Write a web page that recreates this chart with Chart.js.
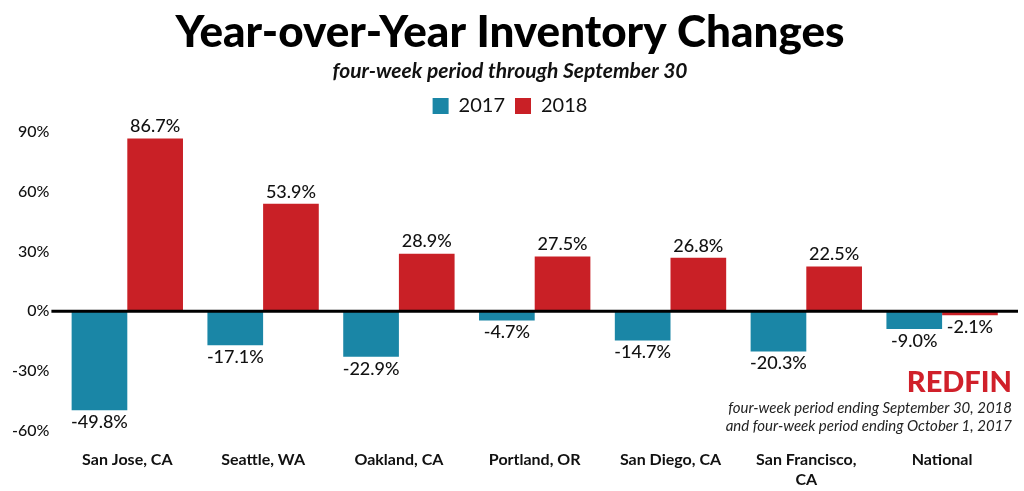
<!DOCTYPE html>
<html><head><meta charset="utf-8">
<script src="https://cdn.jsdelivr.net/npm/chart.js@4/dist/chart.umd.min.js"></script>
<style>html,body{margin:0;padding:0;background:#fff}#w{width:1024px;height:491px}</style>
</head><body><div id="w"><canvas id="c"></canvas></div>
<script>
const categories = [["San Jose, CA"],["Seattle, WA"],["Oakland, CA"],["Portland, OR"],["San Diego, CA"],["San Francisco,","CA"],["National"]];
const values2017 = [-49.8,-17.1,-22.9,-4.7,-14.7,-20.3,-9.0];
const values2018 = [86.7,53.9,28.9,27.5,26.8,22.5,-2.1];
const yTicks = [90,60,30,0,-30,-60];

const labelsPlugin = {
  id:'lbl',
  afterDatasetsDraw(chart){
    const ctx=chart.ctx;
    ctx.save();
    ctx.font='500 18px Lato';ctx.fillStyle='#111';ctx.textAlign='center';
    chart.data.datasets.forEach((ds,i)=>{
      chart.getDatasetMeta(i).data.forEach((bar,j)=>{
        const v=ds.data[j];
        ctx.textBaseline=v>=0?'bottom':'top';
        ctx.fillText(v.toFixed(1)+'%',bar.x,v>=0?bar.y-3:bar.y+3);
      });
    });
    const ya=chart.scales.y, xa=chart.scales.x;
    const y0=ya.getPixelForValue(0);
    ctx.strokeStyle='#000';ctx.lineWidth=3;
    ctx.beginPath();ctx.moveTo(xa.left-8,y0);ctx.lineTo(xa.right+8,y0);ctx.stroke();
    ctx.textAlign='right';ctx.textBaseline='alphabetic';
    ctx.fillStyle='#d0202a';ctx.font='900 29px Lato';
    ctx.fillText('REDFIN',1012,392);
    ctx.fillStyle='#222';ctx.font='italic 15px Lato';
    ctx.fillText('four-week period ending September 30, 2018',1012,413);
    ctx.fillText('and four-week period ending October 1, 2017',1012,431);
    ctx.restore();
  }
};

new Chart(document.getElementById('c'),{
  type:'bar',
  data:{labels:categories,datasets:[
    {label:'2017',data:values2017,backgroundColor:'#1a86a6',categoryPercentage:0.82,barPercentage:1},
    {label:'2018',data:values2018,backgroundColor:'#c92026',categoryPercentage:0.82,barPercentage:1}
  ]},
  options:{
    responsive:true,maintainAspectRatio:false,animation:false,
    layout:{padding:{left:10,right:14,bottom:0}},
    plugins:{
      title:{display:true,text:'Year-over-Year Inventory Changes',color:'#000',font:{family:'Lato',size:44,weight:'900'},padding:{top:6,bottom:0}},
      subtitle:{display:true,text:'four-week period through September 30',color:'#111',font:{family:'Lato',size:21,style:'italic',weight:'bold'},padding:{top:0,bottom:2}},
      legend:{labels:{boxWidth:16,boxHeight:16,color:'#111',font:{family:'Lato',size:20}},padding:0},
      tooltip:{enabled:false}
    },
    scales:{
      x:{grid:{display:false},border:{display:false},ticks:{padding:2,color:'#111',font:{family:'Lato',size:16,weight:'bold'}}},
      y:{min:-65,max:93,grid:{display:false},border:{display:false},
        afterBuildTicks(a){a.ticks=yTicks.map(v=>({value:v}));},
        ticks:{padding:2,color:'#111',font:{family:'Lato',size:16,weight:'500'},callback:v=>v+'%'}}
    }
  },
  plugins:[labelsPlugin]
});
</script></body></html>
